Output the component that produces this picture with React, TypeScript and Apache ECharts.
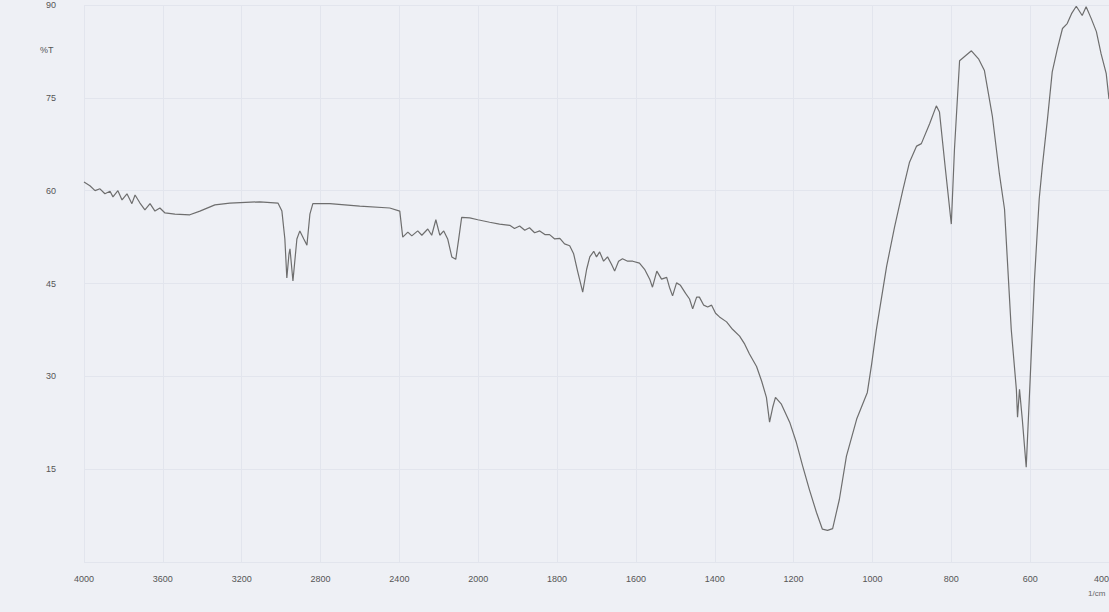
import React, { useEffect, useRef } from "react";
import * as echarts from "echarts";

// Wavenumber (1/cm) and transmittance (%T)
const wavenumbers: number[] = [
  4000, 3970, 3944, 3919, 3894, 3868, 3853, 3828, 3807, 3782, 3757, 3741, 3716, 3691, 3665, 3640, 3615, 3589, 3539, 3463,
  3412, 3336, 3260, 3108, 3016, 2996, 2981, 2971, 2960, 2955, 2940, 2920, 2905, 2885, 2869, 2854, 2839, 2753, 2601, 2449,
  2398, 2383, 2357, 2337, 2307, 2286, 2256, 2236, 2215, 2195, 2175, 2155, 2134, 2114, 2099, 2084, 2043, 2002,
  1971, 1946, 1920, 1908, 1895, 1882, 1870, 1857, 1844, 1831, 1819, 1806, 1793, 1781, 1768, 1758, 1748, 1735, 1725, 1717,
  1707, 1700, 1692, 1682, 1672, 1662, 1654, 1644, 1634, 1621, 1608, 1591, 1578, 1565, 1558, 1547, 1535, 1522, 1515, 1507,
  1497, 1487, 1474, 1464, 1456, 1446, 1439, 1428, 1418, 1408, 1398, 1388, 1370, 1355, 1337, 1324, 1312, 1294, 1281, 1269,
  1261, 1253, 1246, 1231, 1210, 1193, 1177, 1160, 1142, 1127, 1114, 1101, 1084, 1066, 1040, 1025, 1013, 1002, 990, 964,
  944, 924, 906, 888, 876, 855, 838, 830, 815, 800, 792, 779, 764, 749, 731, 716, 696, 678, 665, 648,
  635, 632, 627, 620, 610, 600, 589, 577, 569, 556, 544, 531, 518, 506, 495, 483, 468, 458, 445, 432,
  420, 407, 400,
];
const transmittance: number[] = [
  61.4, 60.8, 60.0, 60.3, 59.5, 59.9, 59.0, 60.0, 58.5, 59.5, 57.9, 59.3, 58.0, 56.9, 57.9, 56.7, 57.2, 56.4, 56.2, 56.1,
  56.7, 57.7, 58.0, 58.2, 58.0, 56.7, 52.2, 45.9, 49.8, 50.6, 45.4, 52.2, 53.5, 52.2, 51.2, 56.2, 57.9, 57.9, 57.5, 57.2,
  56.7, 52.5, 53.3, 52.7, 53.5, 52.8, 53.8, 52.8, 55.3, 52.8, 53.5, 52.2, 49.3, 48.9, 52.2, 55.7, 55.6, 55.3,
  54.9, 54.6, 54.4, 53.9, 54.3, 53.6, 54.0, 53.2, 53.5, 52.9, 52.9, 52.2, 52.3, 51.4, 51.1, 49.8, 47.0, 43.6, 47.3, 49.3,
  50.2, 49.3, 50.1, 48.6, 49.3, 48.1, 47.0, 48.6, 49.0, 48.6, 48.6, 48.3, 47.3, 45.7, 44.4, 47.0, 45.7, 46.0, 44.4, 43.0,
  45.1, 44.7, 43.4, 42.5, 40.9, 42.8, 42.8, 41.5, 41.2, 41.5, 40.2, 39.6, 38.8, 37.6, 36.5, 35.2, 33.6, 31.6, 29.2, 26.6,
  22.6, 25.0, 26.6, 25.5, 22.6, 19.3, 15.5, 11.7, 8.0, 5.3, 5.1, 5.4, 10.1, 17.1, 23.1, 25.5, 27.4, 32.0, 37.6, 47.8,
  54.1, 59.8, 64.6, 67.2, 67.6, 70.8, 73.7, 72.7, 63.5, 54.6, 66.7, 81.0, 81.8, 82.6, 81.3, 79.4, 72.1, 62.7, 57.0, 37.6,
  27.9, 23.4, 27.9, 23.1, 15.3, 29.5, 45.7, 58.7, 64.0, 71.6, 79.2, 82.9, 86.2, 87.0, 88.6, 89.8, 88.3, 89.7, 87.8, 85.7,
  82.1, 78.9, 74.8,
];
const yTicks: number[] = [15, 30, 45, 60, 75, 90];

// Instrument scale: 4000-2000 compressed by half, 2000-400 full scale
const toAxis = (wn: number) => (wn >= 2000 ? (4000 - wn) / 2 : 1000 + (2000 - wn));
const fromAxis = (u: number) => (u <= 1000 ? 4000 - 2 * u : 2000 - (u - 1000));

export default function App() {
  const ref = useRef<HTMLDivElement>(null);
  useEffect(() => {
    if (!ref.current) return;
    const chart = echarts.init(ref.current, null, { renderer: "svg" });
    const data = wavenumbers.map((w, i) => [toAxis(w), transmittance[i]]);
    const font = "'Liberation Sans', Arial, sans-serif";
    chart.setOption({
      animation: false,
      backgroundColor: "#eef0f5",
      grid: { left: 84, right: 0, top: 5, bottom: 50, outerBoundsMode: "none", containLabel: false },
      xAxis: {
        type: "value",
        min: 0,
        max: 2600,
        interval: 200,
        axisLine: { show: false },
        axisTick: { show: false },
        splitLine: { show: true, lineStyle: { color: "#e2e5ed", width: 1 } },
        axisLabel: {
          margin: 12,
          color: "#555",
          fontSize: 9,
          fontFamily: font,
          hideOverlap: false,
          alignMaxLabel: "right",
          formatter: (v: number) => String(fromAxis(v)),
        },
      },
      yAxis: {
        type: "value",
        min: 0,
        max: 90,
        interval: 15,
        axisLine: { show: false },
        axisTick: { show: false },
        splitLine: { show: true, lineStyle: { color: "#e2e5ed", width: 1 } },
        axisLabel: {
          margin: 28,
          color: "#555",
          fontSize: 9,
          fontFamily: font,
          formatter: (v: number) => (yTicks.includes(v) ? String(v) : ""),
        },
      },
      graphic: [
        { type: "text", left: 40, top: 45, style: { text: "%T", fill: "#555", fontSize: 9, fontFamily: font } },
        { type: "text", left: 1088, top: 589, style: { text: "1/cm", fill: "#666", fontSize: 8, fontFamily: font } },
      ],
      series: [
        {
          type: "line",
          data,
          showSymbol: false,
          smooth: false,
          lineStyle: { color: "#6e6e6e", width: 1.2 },
        },
      ],
    });
    return () => chart.dispose();
  }, []);
  return (
    <div
      ref={ref}
      style={{ position: "fixed", left: 0, top: 0, width: 1109, height: 612 }}
    />
  );
}
